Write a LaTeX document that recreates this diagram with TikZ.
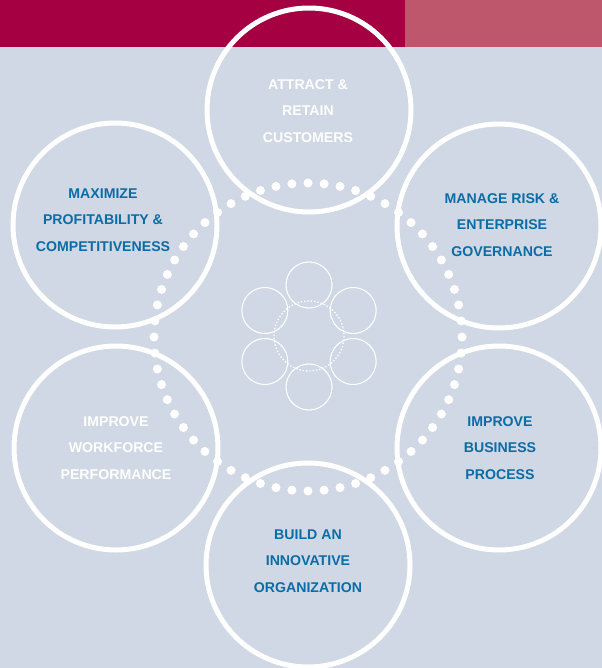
\documentclass[tikz,border=0pt]{standalone}
\usepackage{fontspec}
\setmainfont{Liberation Sans}
\usepackage{tikz}

\definecolor{backblue}{HTML}{D0D8E5}
\definecolor{bandred}{HTML}{A50042}
\definecolor{bandrose}{HTML}{BE576B}
\definecolor{goalblue}{HTML}{0B6CA6}

\begin{document}
\begin{tikzpicture}[x=0.75pt, y=-0.75pt, line width=3.75pt,
    goal/.style={align=center, inner sep=0pt, font=\fontsize{10.6}{19.9}\selectfont\bfseries}]
    % draw background and top band
    \fill[color=backblue] (0, 0) rectangle (602, 668);
    \fill[color=bandred] (0, 0) rectangle (405, 47);
    \fill[color=bandrose] (405, 0) rectangle (602, 47);
    \useasboundingbox (0, 0) rectangle (602, 668);

    % draw big circles
    \draw[color=white] (309, 110) circle (102);
    \draw[color=white] (499, 226) circle (102);
    \draw[color=white] (499, 448) circle (102);
    \draw[color=white] (308, 565) circle (102);
    \draw[color=white] (116, 448) circle (102);
    \draw[color=white] (115, 225) circle (102);

    % draw dotted ring
    \foreach \a in {0, 6, ..., 354}
      \fill[color=white] (308, 337) ++(\a : 154) circle (4.5);

    % draw small circles in the middle
    \foreach \a in {30, 90, ..., 330}
      \draw[color=white, line width=0.8pt] (309, 336) ++(\a : 51) circle (23);
    \draw[color=white, line width=1pt, dash pattern=on 1pt off 1.5pt] (309, 336) circle (35);

    % draw labels
    \node[goal, text=white] (attract) at (308, 111) {ATTRACT \&\\RETAIN\\CUSTOMERS};
    \node[goal, text=goalblue] (risk) at (502, 225) {MANAGE RISK \&\\ENTERPRISE\\GOVERNANCE};
    \node[goal, text=goalblue] (process) at (500, 448) {IMPROVE\\BUSINESS\\PROCESS};
    \node[goal, text=goalblue] (innovate) at (308, 561) {BUILD AN\\INNOVATIVE\\ORGANIZATION};
    \node[goal, text=white] (workforce) at (116, 448) {IMPROVE\\WORKFORCE\\PERFORMANCE};
    \node[goal, text=goalblue] (profit) at (103, 220) {MAXIMIZE\\PROFITABILITY \&\\COMPETITIVENESS};
\end{tikzpicture}
\end{document}
